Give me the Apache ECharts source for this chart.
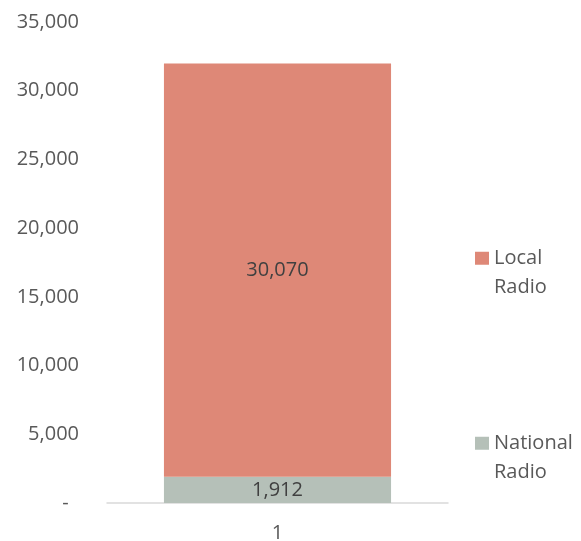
<!DOCTYPE html>
<html>
<head>
<meta charset="utf-8">
<script src="https://cdn.jsdelivr.net/npm/echarts@6/dist/echarts.min.js"></script>
<style>
  html, body { margin: 0; padding: 0; background: #fff; }
  #chart { width: 581px; height: 541px; }
</style>
</head>
<body>
<div id="chart"></div>
<script>
// Radio audience split, stacked into a single column
const categories = ['1'];
const nationalRadio = [1912];
const localRadio = [30070];
const yTicks = [0, 5000, 10000, 15000, 20000, 25000, 30000, 35000];

const FONT = 'Open Sans';
const TEXT = '#595959';
const SIZE = 20;

function fmt(v) {
  return v === 0 ? '-  ' : v.toLocaleString('en-US');
}

// Two-word legend names wrap onto two lines; a blank leading line keeps
// the swatch level with the first word.
function legendEntry(top, name) {
  return {
    data: [{ name: name, icon: 'rect' }],
    orient: 'vertical',
    left: 470,
    top: top,
    itemWidth: 14,
    itemHeight: 13,
    formatter: n => ' \n' + n.replace(' ', '\n'),
    textStyle: { color: TEXT, fontSize: SIZE, fontFamily: FONT, lineHeight: 29.5 },
    selectedMode: false
  };
}

const valueLabel = {
  show: true,
  position: 'inside',
  color: '#404040',
  fontSize: SIZE,
  fontFamily: FONT,
  formatter: p => fmt(p.value)
};

const chart = echarts.init(document.getElementById('chart'));
chart.setOption({
  animation: false,
  textStyle: { fontFamily: FONT },
  grid: { left: 107, right: 133, top: 22, bottom: 38, outerBoundsMode: 'none' },
  xAxis: {
    type: 'category',
    data: categories,
    axisLine: { lineStyle: { color: '#D9D9D9', width: 1.5 } },
    axisTick: { show: false },
    axisLabel: { color: TEXT, fontSize: SIZE, fontFamily: FONT, margin: 20 }
  },
  yAxis: {
    type: 'value',
    min: yTicks[0],
    max: yTicks[yTicks.length - 1],
    interval: yTicks[1] - yTicks[0],
    axisLine: { show: false },
    axisTick: { show: false },
    splitLine: { show: false },
    axisLabel: { color: TEXT, fontSize: SIZE, fontFamily: FONT, margin: 28, formatter: fmt }
  },
  legend: [
    legendEntry(209, 'Local Radio'),
    legendEntry(394, 'National Radio')
  ],
  series: [
    {
      name: 'National Radio',
      type: 'bar',
      stack: 'total',
      data: nationalRadio,
      barWidth: '66.6%',
      itemStyle: { color: '#B5C0B8' },
      label: valueLabel
    },
    {
      name: 'Local Radio',
      type: 'bar',
      stack: 'total',
      data: localRadio,
      barWidth: '66.6%',
      itemStyle: { color: '#DE8877' },
      label: valueLabel
    }
  ]
});
</script>
</body>
</html>
